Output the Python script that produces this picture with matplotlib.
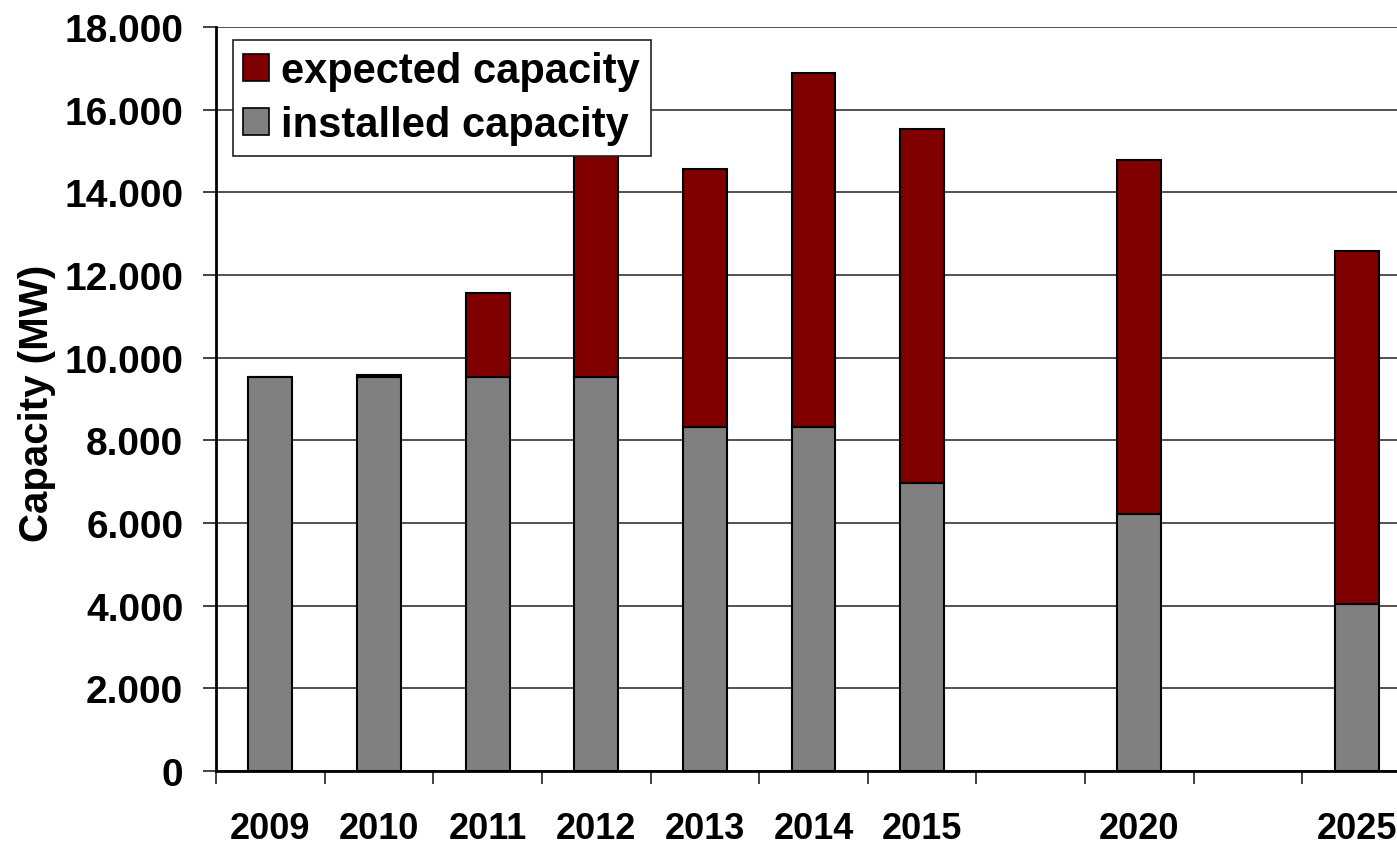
import numpy as np
import matplotlib
matplotlib.use("Agg")
import matplotlib.pyplot as plt
from matplotlib.ticker import FuncFormatter, MultipleLocator
from matplotlib.patches import Patch

# data (MW)
years = ["2009", "2010", "2011", "2012", "2013", "2014", "2015", "", "2020", "", "2025"]
installed = [9530, 9530, 9530, 9540, 8330, 8330, 6970, 0, 6220, 0, 4040]
total = [9530, 9580, 11565, 15800, 14565, 16890, 15530, 0, 14790, 0, 12590]
expected = [t - i for t, i in zip(total, installed)]

plt.rcParams['font.family'] = ['Liberation Sans', 'DejaVu Sans']
plt.rcParams['font.weight'] = 'bold'

fig = plt.figure(figsize=(13.97, 8.45), dpi=100)
ax = fig.add_axes([216/1397, 73/845, 1195/1397, 744/845])

x = np.arange(len(years))
has = np.array(total) > 0  # empty slots get no bar
w = 0.405
grey = "#808080"
red = "#800000"
ax.bar(x[has], np.array(installed)[has], w, color=grey, edgecolor="black", linewidth=1.5, zorder=3)
ax.bar(x[has], np.array(expected)[has], w, bottom=np.array(installed)[has],
       color=red, edgecolor="black", linewidth=1.5, zorder=3)

ax.set_xlim(-0.5, len(years) - 0.5)
ax.set_ylim(0, 18000)
ax.yaxis.set_major_locator(MultipleLocator(2000))
ax.yaxis.set_major_formatter(FuncFormatter(lambda v, p: f"{int(v):,}".replace(",", ".")))
ax.grid(axis="y", color="#444444", linewidth=1.3, zorder=0)

ax.set_xticks(x)
ax.set_xticklabels(years)
ax.set_xticks(np.arange(-0.5, len(years), 1), minor=True)
ax.tick_params(axis="x", which="major", length=0, pad=29, labelsize=26)
ax.tick_params(axis="x", which="minor", length=9, width=1.3, color="#333333")
ax.tick_params(axis="y", length=9.5, width=1.3, color="#333333", pad=14, labelsize=28)

for s in ["top", "right"]:
    ax.spines[s].set_visible(False)
ax.spines["left"].set_linewidth(2)
ax.spines["bottom"].set_linewidth(2)

ax.set_ylabel("Capacity (MW)", fontsize=29, fontweight="bold")
ax.yaxis.set_label_coords(-0.134, 0.495)

handles = [Patch(facecolor=red, edgecolor="black", linewidth=1.2, label="expected capacity"),
           Patch(facecolor=grey, edgecolor="black", linewidth=1.2, label="installed capacity")]
leg = ax.legend(handles=handles, loc="upper left", bbox_to_anchor=(0.014, 0.982),
                fontsize=30, frameon=True, fancybox=False, framealpha=1, borderpad=0.25,
                handlelength=0.62, handleheight=0.62, handletextpad=0.3,
                labelspacing=0.35, borderaxespad=0)
leg.get_frame().set_edgecolor("#222222")
leg.get_frame().set_linewidth(1.2)
leg.set_zorder(5)

fig.savefig("out.png", dpi=100)
